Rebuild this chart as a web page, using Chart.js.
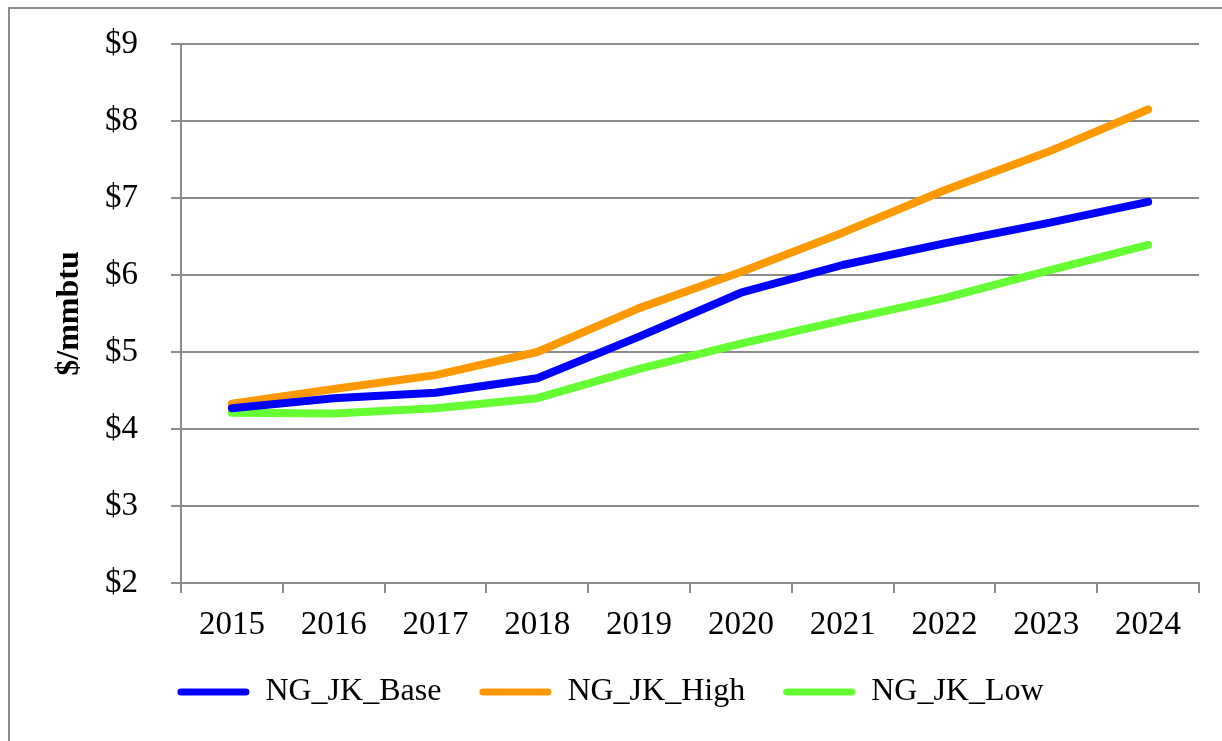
<!DOCTYPE html>
<html>
<head>
<meta charset="utf-8">
<script src="https://cdn.jsdelivr.net/npm/chart.js@4"></script>
<style>
    html, body { margin: 0; padding: 0; background: #fff; overflow: hidden; }
    #wrap { position: relative; width: 1222px; height: 741px; }
    #frame { position: absolute; left: 8px; top: 7px; width: 1400px; height: 900px; border: 2px solid #8c8c8c; }
    canvas { position: absolute; left: 0; top: 0; }
</style>
</head>
<body>
<div id="wrap">
    <div id="frame"></div>
    <canvas id="priceChart" width="1222" height="741"></canvas>
</div>
<script>
const years = ['2015', '2016', '2017', '2018', '2019', '2020', '2021', '2022', '2023', '2024'];
const baseValues = [4.27, 4.40, 4.47, 4.66, 5.20, 5.77, 6.13, 6.41, 6.67, 6.95];
const highValues = [4.33, 4.52, 4.70, 5.00, 5.57, 6.04, 6.55, 7.10, 7.59, 8.15];
const lowValues = [4.21, 4.20, 4.27, 4.40, 4.78, 5.11, 5.41, 5.70, 6.05, 6.39];

const gridGray = '#8c8c8c';
const serif = "'Liberation Serif', 'Times New Roman', serif";

function lineSeries(label, data, color) {
    return {
        label: label,
        data: data,
        borderColor: color,
        backgroundColor: color,
        borderWidth: 8,
        borderCapStyle: 'round',
        borderJoinStyle: 'round',
        pointRadius: 0,
        tension: 0,
        fill: false
    };
}

const ctx = document.getElementById('priceChart').getContext('2d');

new Chart(ctx, {
    type: 'line',
    data: {
        labels: years,
        datasets: [
            lineSeries('NG_JK_Base', baseValues, '#0000ff'),
            lineSeries('NG_JK_High', highValues, '#ff9900'),
            lineSeries('NG_JK_Low', lowValues, '#66ff33')
        ]
    },
    options: {
        responsive: false,
        animation: false,
        layout: {
            autoPadding: false,
            padding: { left: 22, top: 44, right: 23, bottom: 23 }
        },
        scales: {
            x: {
                offset: true,
                grid: {
                    offset: true,
                    drawOnChartArea: false,
                    drawTicks: true,
                    tickLength: 10,
                    color: gridGray,
                    lineWidth: 2
                },
                border: { display: true, color: gridGray, width: 2 },
                ticks: {
                    color: '#000',
                    padding: 13,
                    maxRotation: 0,
                    font: { family: serif, size: 33 }
                },
                afterFit: function(scale) {
                    scale.height = 55;
                }
            },
            y: {
                min: 2,
                max: 9,
                grid: {
                    color: gridGray,
                    lineWidth: 2,
                    tickLength: 10
                },
                border: { display: true, color: gridGray, width: 2 },
                ticks: {
                    stepSize: 1,
                    color: '#000',
                    padding: 33,
                    font: { family: serif, size: 33 },
                    callback: function(value) {
                        return '$' + value;
                    }
                },
                title: {
                    display: true,
                    text: '$/mmbtu',
                    color: '#000',
                    padding: { top: 29, bottom: 0 },
                    font: { family: serif, size: 32, weight: 'bold' }
                },
                afterFit: function(scale) {
                    scale.width = 159;
                    scale.paddingTop = 0;
                    scale.paddingBottom = 0;
                }
            }
        },
        plugins: {
            legend: {
                position: 'bottom',
                labels: {
                    color: '#000',
                    boxWidth: 72,
                    boxHeight: 7,
                    useBorderRadius: true,
                    borderRadius: 3.5,
                    padding: 38,
                    font: { family: serif, size: 32 },
                    generateLabels: function(chart) {
                        const items = Chart.defaults.plugins.legend.labels.generateLabels(chart);
                        items.forEach(item => { item.lineWidth = 0; });
                        return items;
                    }
                }
            },
            tooltip: { enabled: false }
        }
    }
});
</script>
</body>
</html>
